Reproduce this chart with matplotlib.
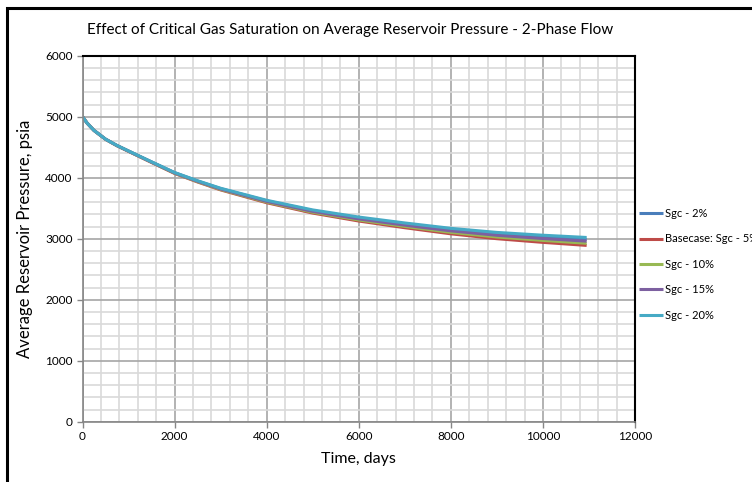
import matplotlib
matplotlib.use("Agg")
import matplotlib.pyplot as plt
from matplotlib.patches import Rectangle
from matplotlib.ticker import MultipleLocator

plt.rcParams['font.family'] = ['Lato', 'DejaVu Sans']

time_days = [0, 100, 250, 500, 750, 1000, 1500, 2000, 2500, 3000, 4000, 5000,
             6000, 7000, 8000, 9000, 10000, 10950]
sgc_2 = [5000, 4895, 4775, 4632, 4527, 4437, 4258, 4082, 3945, 3821, 3621, 3460,
         3340, 3240, 3150, 3080, 3030, 2990]
sgc_5 = [5000, 4895, 4775, 4630, 4524, 4432, 4250, 4070, 3930, 3800, 3590, 3420,
         3290, 3180, 3080, 3000, 2940, 2890]
sgc_10 = [5000, 4895, 4775, 4630, 4525, 4434, 4253, 4074, 3935, 3807, 3601, 3434,
          3307, 3201, 3104, 3028, 2972, 2925]
sgc_15 = [5000, 4895, 4775, 4631, 4526, 4435, 4255, 4078, 3941, 3815, 3612, 3448,
          3325, 3222, 3129, 3056, 3003, 2960]
sgc_20 = [5000, 4895, 4775, 4632, 4528, 4438, 4260, 4085, 3950, 3827, 3630, 3472,
          3355, 3258, 3170, 3103, 3057, 3020]

series = [
    ("Sgc - 2%", sgc_2, "#4a7ebb"),
    ("Basecase: Sgc - 5%", sgc_5, "#be4b48"),
    ("Sgc - 10%", sgc_10, "#98b954"),
    ("Sgc - 15%", sgc_15, "#7d60a0"),
    ("Sgc - 20%", sgc_20, "#46aac5"),
]

fig = plt.figure(figsize=(7.52, 4.82), dpi=100)
ax = fig.add_axes([82.5 / 752, 1 - 421.7 / 482, (635 - 82.5) / 752, (421.7 - 55.7) / 482])

for label, vals, color in series:
    ax.plot(time_days, vals, color=color, lw=2.2, label=label, solid_capstyle='butt')

ax.set_xlim(0, 12000)
ax.set_ylim(0, 6000)
ax.xaxis.set_major_locator(MultipleLocator(2000))
ax.xaxis.set_minor_locator(MultipleLocator(400))
ax.yaxis.set_major_locator(MultipleLocator(1000))
ax.yaxis.set_minor_locator(MultipleLocator(200))
ax.grid(which='minor', color='#d9d9d9', lw=1.2)
ax.grid(which='major', color='#a6a6a6', lw=1.2)
ax.set_axisbelow(True)
ax.tick_params(which='minor', length=0)
ax.tick_params(which='major', length=4, width=1, color='#868686', labelsize=8.5, pad=3)
for s in ['left', 'bottom']:
    ax.spines[s].set_color('#868686')
    ax.spines[s].set_linewidth(1.2)
for s in ['top', 'right']:
    ax.spines[s].set_color('black')
    ax.spines[s].set_linewidth(1.5)

ax.set_xlabel("Time, days", fontsize=11.5, labelpad=7)
ax.set_ylabel("Average Reservoir Pressure, psia", fontsize=12, labelpad=9)
fig.text(350 / 752, 1 - 30 / 482, "Effect of Critical Gas Saturation on Average Reservoir Pressure - 2-Phase Flow",
         ha='center', va='center', fontsize=11)

fig.legend(loc='upper left', bbox_to_anchor=(639 / 752, 1 - 208 / 482), frameon=False,
           fontsize=8, handlelength=2.2, handletextpad=0.15, labelspacing=1.3,
           borderpad=0, borderaxespad=0)

fig.patches.append(Rectangle((7 / 752, -0.1), 1.2, 1 - 8 / 482 + 0.1, transform=fig.transFigure,
                             fill=False, edgecolor='black', lw=2.2))

fig.savefig("out.png", dpi=100)
